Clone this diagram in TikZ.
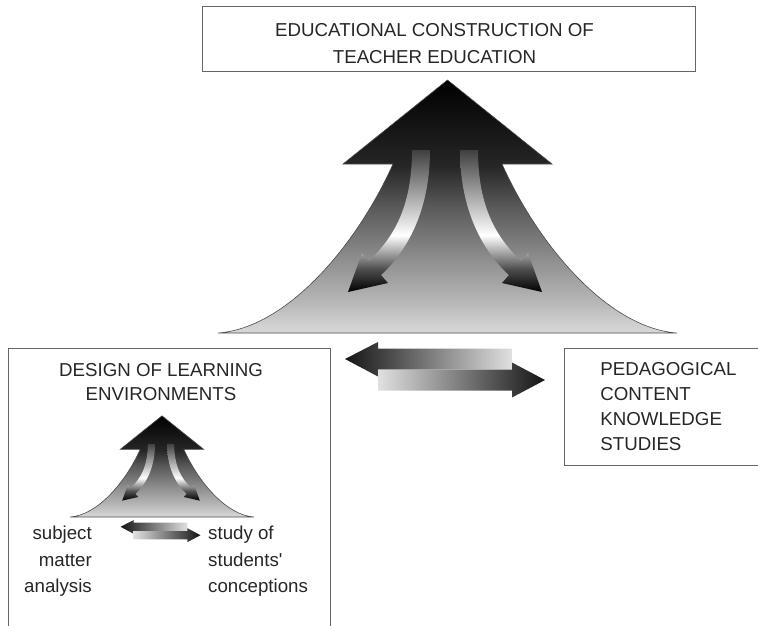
\documentclass[tikz,border=0pt]{standalone}
\usepackage{fontspec}
\setmainfont{Liberation Sans}
\usetikzlibrary{positioning}

% shadings of the growing arrows (bottom of the path = 25bp, top = 75bp)
\pgfdeclareverticalshading{riseshade}{100bp}{color(0bp)=(black!15); color(25bp)=(black!15); color(31bp)=(black!28); color(41bp)=(black!47); color(50bp)=(black!65); color(58bp)=(black!85); color(75bp)=(black); color(100bp)=(black)}
\pgfdeclareverticalshading{turnshade}{100bp}{color(0bp)=(black); color(25bp)=(black); color(33bp)=(black!70); color(45bp)=(white); color(61bp)=(black!40); color(75bp)=(black!75); color(100bp)=(black!75)}

\begin{document}
\begin{tikzpicture}[
        x=1pt, y=-1pt,
        % This defines the style of the framed fields
        panel/.style={rectangle, draw=black!60, line width=0.8pt, inner sep=0pt},
        % This defines the style of the capital headings
        heading/.style={font=\fontsize{18.7}{26.6}\selectfont, text=black!85, align=center, inner sep=0pt},
        % This defines the style of the small side texts
        sidetext/.style={font=\fontsize{18.7}{26.5}\selectfont, text=black!85, inner sep=0pt},
        % This defines the style of the shaded arrow shapes
        risepart/.style={draw=black!70, line width=0.6pt, shading=riseshade},
        turnpart/.style={shading=turnshade},
        leftpart/.style={left color=black!92, right color=black!12},
        rightpart/.style={left color=black!12, right color=black!92},
        % the big upward arrow with its two returning arrows
        risearrow/.pic={
            \path[risepart] (0,-253) -- (104.5,-169) -- (54.5,-169)
                .. controls (90.5,-88) and (160.5,-5) .. (229.5,0) -- (-229.5,0)
                .. controls (-160.5,-5) and (-90.5,-88) .. (-54.5,-169) -- (-104.5,-169) -- cycle;
            \path[turnpart] (-35.5,-183) .. controls (-35.5,-125) and (-54.5,-95) .. (-78.5,-72)
                -- (-85.5,-80) -- (-99.5,-41) -- (-59.5,-50) -- (-66.5,-58)
                .. controls (-41.5,-81) and (-17.5,-121) .. (-17.5,-183) -- cycle;
            \path[turnpart, xshift=-5pt, xscale=-1] (-35.5,-183) .. controls (-35.5,-125) and (-54.5,-95) .. (-78.5,-72)
                -- (-85.5,-80) -- (-99.5,-41) -- (-59.5,-50) -- (-66.5,-58)
                .. controls (-41.5,-81) and (-17.5,-121) .. (-17.5,-183) -- cycle;
        },
        % the pair of opposite arrows
        swaparrows/.pic={
            \path[leftpart] (-100,-10.5) -- (-67,-27.5) -- (-67,-21) -- (67,-21) -- (67,0)
                -- (-67,0) -- (-67,7) -- cycle;
            \path[rightpart] (-67,0) -- (67,0) -- (67,-7) -- (100,10.5) -- (67,28)
                -- (67,21) -- (-67,21) -- cycle;
        }
    ]

    \useasboundingbox (0,0) rectangle (758,625);
    \clip (0,0) rectangle (758,625);

    % --- THE FRAMES ---
    \node[panel, minimum width=493pt, minimum height=65pt] (topframe) at (448.5,38.5) {};
    \node[heading] (toptitle) at ([xshift=-14pt, yshift=-5pt]topframe.center)
        {EDUCATIONAL CONSTRUCTION OF\\TEACHER EDUCATION};

    \node[panel, anchor=north west, minimum width=322pt, minimum height=300pt] (designframe) at (8,348) {};
    \node[heading, font=\fontsize{18.7}{23.5}\selectfont] (designtitle) at (161,382)
        {DESIGN OF LEARNING\\ENVIRONMENTS};

    \node[panel, anchor=north west, minimum width=220pt, minimum height=117pt, text width=150pt,
        inner xsep=36pt, align=left, text=black!85, font=\fontsize{18.7}{25}\selectfont] (pckframe) at (564,348)
        {PEDAGOGICAL\\CONTENT\\KNOWLEDGE\\STUDIES};

    % --- THE ARROWS ---
    \pic (bigrise) at (447.5,333) {risearrow};
    \pic (bigswap) at (445,369.5) {swaparrows};
    \pic[scale=0.4] (smallrise) at (162,517) {risearrow};
    \pic[scale=0.4] (smallswap) at (160.5,531) {swaparrows};

    % --- THE SIDE TEXTS ---
    \node[sidetext, anchor=east, align=right] (subjecttext) at (92,561.6) {subject\\matter\\analysis};
    \node[sidetext, anchor=west, align=left] (studytext) at (208,561.6) {study of\\students\textquotesingle\\conceptions};

\end{tikzpicture}
\end{document}
